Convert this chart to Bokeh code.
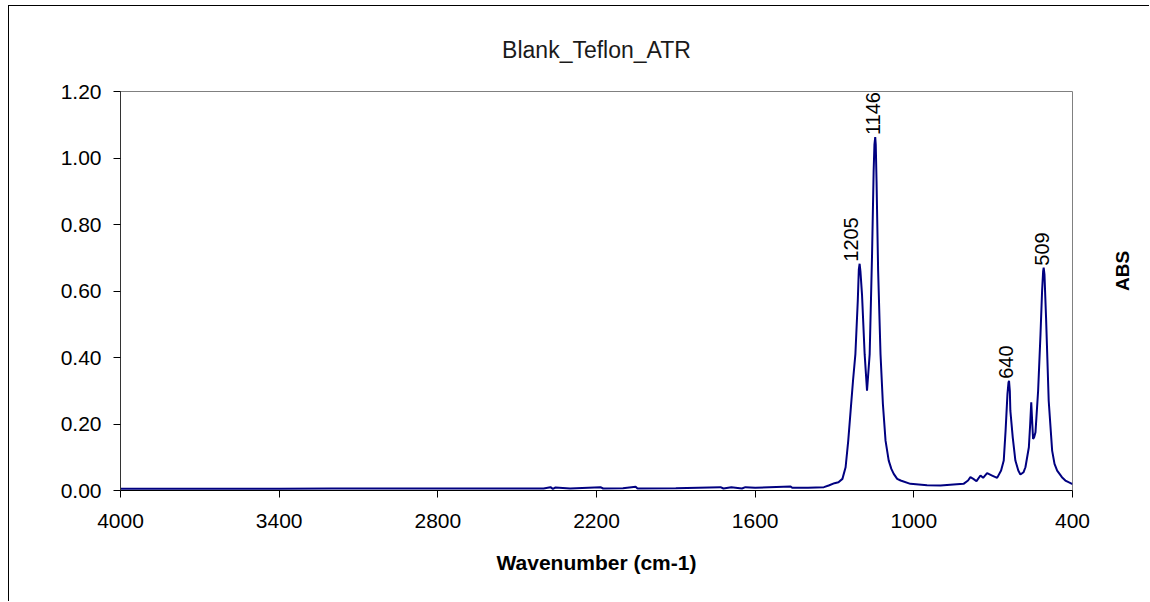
import math

from bokeh.core.properties import value
from bokeh.embed import file_html
from bokeh.models import (ColumnDataSource, FixedTicker, LabelSet, LinearAxis,
                          NumeralTickFormatter, Range1d)
from bokeh.plotting import figure
from bokeh.resources import INLINE

# ATR spectrum of a blank PTFE sample (absorbance vs. wavenumber, cm-1)
wavenumber = [
    4000, 3800, 3600, 3400, 3200, 3000, 2800, 2600, 2400, 2374, 2365, 2355,
    2300, 2185, 2175, 2100, 2052, 2045, 1900, 1731, 1720, 1690, 1650, 1637,
    1600, 1466, 1460, 1400, 1340, 1322, 1300, 1285, 1270, 1258, 1248, 1239,
    1230, 1221, 1212, 1208, 1205, 1202, 1196, 1186, 1177, 1167, 1158, 1152,
    1149, 1146, 1144, 1141, 1135, 1126, 1117, 1107, 1095, 1085, 1076, 1063,
    1050, 1013, 950, 899, 850, 812, 795, 786, 775, 763, 748, 738, 723, 704,
    685, 670, 660, 653, 646, 642, 640, 637, 635, 626, 616, 605, 597, 585,
    578, 565, 560, 556, 552, 549, 545, 540, 530, 521, 515, 511, 509, 506,
    500, 490, 477, 468, 458, 440, 427, 415, 402, 400,
]
absorbance = [
    0.005, 0.005, 0.005, 0.005, 0.006, 0.006, 0.006, 0.006, 0.006, 0.010, 0.005, 0.009,
    0.006, 0.010, 0.006, 0.007, 0.011, 0.006, 0.007, 0.010, 0.006, 0.010, 0.006, 0.010,
    0.008, 0.012, 0.008, 0.008, 0.010, 0.015, 0.022, 0.025, 0.035, 0.070, 0.150, 0.240,
    0.330, 0.410, 0.570, 0.665, 0.682, 0.660, 0.590, 0.410, 0.300, 0.410, 0.710, 0.960,
    1.040, 1.063, 1.040, 0.930, 0.660, 0.410, 0.260, 0.150, 0.090, 0.065, 0.050, 0.035,
    0.030, 0.020, 0.016, 0.015, 0.018, 0.020, 0.030, 0.040, 0.035, 0.028, 0.045, 0.038,
    0.052, 0.045, 0.038, 0.060, 0.090, 0.180, 0.290, 0.325, 0.330, 0.300, 0.240, 0.160,
    0.090, 0.060, 0.048, 0.055, 0.070, 0.130, 0.200, 0.265, 0.200, 0.155, 0.160, 0.175,
    0.300, 0.470, 0.600, 0.660, 0.670, 0.650, 0.520, 0.270, 0.120, 0.080, 0.060, 0.040,
    0.030, 0.025, 0.020, 0.020,
]

# labelled band maxima
peak_wavenumber = [1205, 1146, 640, 509]
peak_absorbance = [0.682, 1.063, 0.330, 0.670]
peak_text = ["1205", "1146", "640", "509"]
peak_label_dx = [-9, -2, -3, -2]

x_ticks = [4000, 3400, 2800, 2200, 1600, 1000, 400]
y_ticks = [0.0, 0.2, 0.4, 0.6, 0.8, 1.0, 1.2]

FONT = "Liberation Sans"

p = figure(
    width=1141, height=596,
    x_range=Range1d(4000, 400), y_range=Range1d(0, 1.2),
    output_backend="svg", toolbar_location=None,
    min_border_left=111, min_border_right=78,
    min_border_top=85, min_border_bottom=112,
    background_fill_color="white", border_fill_color="white",
)
p.margin = (5, 0, 0, 8)
p.styles = {"border-top": "1px solid #000000", "border-left": "1px solid #000000"}

p.xgrid.visible = False
p.ygrid.visible = False
p.outline_line_color = "#808080"
p.outline_line_width = 1

# chart title
p.title.text = "Blank_Teflon_ATR"
p.title.align = "center"
p.title.text_font = FONT
p.title.text_font_size = "23px"
p.title.text_font_style = "normal"
p.title.text_color = "#1a1a1a"
p.title.standoff = 57

p.line(wavenumber, absorbance, line_color="#000080", line_width=2)

# axes
for ax in (p.xaxis[0], p.yaxis[0]):
    ax.axis_line_color = "#000000"
    ax.major_tick_line_color = "#000000"
    ax.minor_tick_line_color = None
    ax.major_tick_in = 0
    ax.major_tick_out = 7
    ax.major_label_text_font = FONT
    ax.major_label_text_font_size = "21px"
    ax.major_label_text_color = "#000000"

p.xaxis.ticker = FixedTicker(ticks=x_ticks)
p.xaxis.major_label_standoff = 16
p.xaxis.axis_label = "Wavenumber (cm-1)"
p.xaxis.axis_label_text_font = FONT
p.xaxis.axis_label_text_font_size = "21px"
p.xaxis.axis_label_text_font_style = "bold"
p.xaxis.axis_label_text_color = "#000000"
p.xaxis.axis_label_standoff = 20

p.yaxis.ticker = FixedTicker(ticks=y_ticks)
p.yaxis.formatter = NumeralTickFormatter(format="0.00")
p.yaxis.major_label_standoff = 12
p.yaxis.axis_line_color = "#333333"

# value-axis caption on the right-hand side (no ticks of its own)
abs_axis = LinearAxis(
    ticker=FixedTicker(ticks=[]),
    axis_label="ABS",
    axis_label_orientation=math.pi / 2,
    axis_label_standoff=50,
    axis_label_text_font=FONT,
    axis_label_text_font_size="19px",
    axis_label_text_font_style="bold",
    axis_label_text_color="#000000",
    axis_line_color=None,
    major_tick_line_color=None,
    minor_tick_line_color=None,
)
p.add_layout(abs_axis, "right")

# band labels above the maxima
peaks = ColumnDataSource(dict(
    x=peak_wavenumber, y=peak_absorbance, text=peak_text, dx=peak_label_dx,
))
p.add_layout(LabelSet(
    x="x", y="y", text="text", source=peaks,
    x_offset="dx", y_offset=2, angle=math.pi / 2,
    text_font=value(FONT), text_font_size=value("20px"), text_color="#000000",
    text_align="left", text_baseline="middle",
))

open("out.html", "w").write(file_html(p, INLINE))
